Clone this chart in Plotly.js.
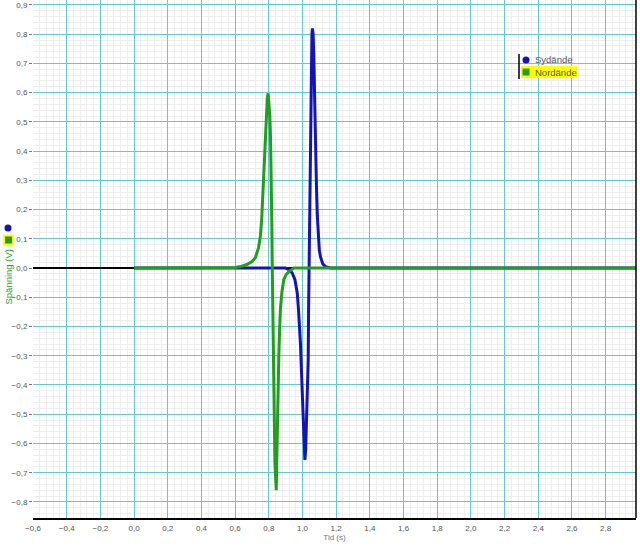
<!DOCTYPE html>
<html>
<head>
<meta charset="utf-8">
<script src="https://cdn.plot.ly/plotly-3.0.1.min.js"></script>
<style>html,body{margin:0;padding:0;background:#fff;}#chart{width:640px;height:546px;}</style>
</head>
<body>
<div id="chart"></div>
<script>
// Series names
const seriesNames = ["Sydände", "Nordände"];
// Sydände (blue): time (s) and voltage (V)
const sydT = [0, 0.899, 0.920, 0.939, 0.955, 0.969, 0.976, 0.982, 0.988, 0.993, 0.998, 1.003, 1.008, 1.014, 1.019, 1.024, 1.029, 1.034, 1.036, 1.038, 1.040, 1.043, 1.047, 1.052, 1.056, 1.059, 1.063, 1.067, 1.073, 1.078, 1.083, 1.088, 1.093, 1.100, 1.107, 1.120, 1.136, 1.166, 2.98];
const sydV = [0, 0, -0.005, -0.017, -0.04, -0.086, -0.14, -0.19, -0.26, -0.34, -0.43, -0.51, -0.58, -0.656, -0.62, -0.54, -0.43, -0.31, -0.15, -0.03, 0.05, 0.28, 0.5, 0.73, 0.80, 0.82, 0.80, 0.73, 0.506, 0.38, 0.277, 0.18, 0.106, 0.06, 0.038, 0.015, 0.005, 0, 0];
// Nordände (green)
const nordT = [0, 0.555, 0.600, 0.632, 0.670, 0.700, 0.720, 0.739, 0.750, 0.758, 0.764, 0.770, 0.777, 0.785, 0.791, 0.796, 0.801, 0.806, 0.810, 0.814, 0.818, 0.820, 0.824, 0.830, 0.836, 0.844, 0.850, 0.855, 0.859, 0.864, 0.869, 0.878, 0.889, 0.903, 0.918, 0.948, 2.98];
const nordV = [0, 0, 0.002, 0.005, 0.012, 0.022, 0.035, 0.07, 0.11, 0.17, 0.25, 0.35, 0.44, 0.53, 0.58, 0.598, 0.57, 0.52, 0.45, 0.35, 0.15, 0.027, -0.2, -0.43, -0.66, -0.76, -0.54, -0.41, -0.31, -0.21, -0.14, -0.08, -0.04, -0.022, -0.013, 0, 0];
// Axis labels
const xTitle = "Tid (s)";
const yTitle = "Spänning (V)";

const blue = "#1414b4";
const green = "#1f9e1f";

// plot area in pixels
const L = 33, R = 636, T = 0, B = 518;
const xp = px => (px - L) / (R - L);
const yp = py => (B - py) / (B - T);

const traces = [
  {x: sydT, y: sydV, name: seriesNames[0], mode: "lines", line: {color: blue, width: 3}, showlegend: false},
  {x: nordT, y: nordV, name: seriesNames[1], mode: "lines", line: {color: green, width: 3}, showlegend: false}
];

const shapes = [
  // right frame line
  {type: "line", xref: "paper", yref: "paper", x0: 1, x1: 1, y0: 0, y1: 1, line: {color: "#000", width: 1.5}},
  // legend
  {type: "line", xref: "paper", yref: "paper", x0: xp(519), x1: xp(519), y0: yp(54), y1: yp(79), line: {color: "#000", width: 1.5}},
  {type: "rect", xref: "paper", yref: "paper", x0: xp(521), x1: xp(577), y0: yp(66), y1: yp(78), fillcolor: "#ffff00", line: {width: 0}},
  {type: "circle", xref: "paper", yref: "paper", x0: xp(522.5), x1: xp(529.5), y0: yp(56.5), y1: yp(63.5), fillcolor: blue, line: {width: 0}},
  {type: "rect", xref: "paper", yref: "paper", x0: xp(522.5), x1: xp(529.5), y0: yp(68.5), y1: yp(75.5), fillcolor: green, line: {width: 0}},
  // left markers
  {type: "circle", xref: "paper", yref: "paper", x0: xp(4.5), x1: xp(11.5), y0: yp(224.5), y1: yp(231.5), fillcolor: blue, line: {width: 0}},
  {type: "rect", xref: "paper", yref: "paper", x0: xp(4), x1: xp(13), y0: yp(235.5), y1: yp(244.5), fillcolor: green, line: {color: "#ffff00", width: 2}}
];

const annotations = [
  {xref: "paper", yref: "paper", x: xp(533), y: yp(60), xanchor: "left", yanchor: "middle", text: seriesNames[0], showarrow: false, font: {size: 9.5, color: "#555", family: "Liberation Sans, Arial"}},
  {xref: "paper", yref: "paper", x: xp(533), y: yp(72), xanchor: "left", yanchor: "middle", text: seriesNames[1], showarrow: false, font: {size: 9.5, color: "#555", family: "Liberation Sans, Arial"}},
  {xref: "paper", yref: "paper", x: xp(8.5), y: yp(277), xanchor: "center", yanchor: "middle", textangle: -90, text: yTitle, showarrow: false, font: {size: 9.5, color: green, family: "Liberation Sans, Arial"}}
];

const layout = {
  width: 640, height: 546,
  margin: {l: L, r: 640 - R, t: T, b: 546 - B},
  paper_bgcolor: "#fff", plot_bgcolor: "#fff",
  separators: ", ",
  showlegend: false,
  font: {family: "Liberation Sans, Arial", size: 8, color: "#555"},
  xaxis: {
    range: [-0.6, 2.98], dtick: 0.2, tick0: 0, tickformat: ".1f",
    showgrid: true, gridcolor: "#66c9c9", gridwidth: 1,
    minor: {dtick: 0.04, showgrid: true, gridcolor: "#eeeeee"},
    zeroline: false, showline: true, linecolor: "#000", linewidth: 1.5,
    ticks: "", ticklabelstandoff: 2,
    tickfont: {size: 8, color: "#555"},
    title: {text: xTitle, font: {size: 8, color: "#777"}, standoff: 2}
  },
  yaxis: {
    range: [-0.855, 0.917], dtick: 0.1, tick0: 0, tickformat: ".1f",
    showgrid: true, gridcolor: "#66c9c9", gridwidth: 1,
    minor: {dtick: 0.02, showgrid: true, gridcolor: "#eeeeee"},
    zeroline: true, zerolinecolor: "#000", zerolinewidth: 1.5,
    showline: false,
    ticks: "outside", ticklen: 3, tickcolor: "#777",
    tickfont: {size: 8, color: "#555"}
  },
  shapes: shapes,
  annotations: annotations
};

Plotly.newPlot("chart", traces, layout, {displayModeBar: false, staticPlot: true});
</script>
</body>
</html>
